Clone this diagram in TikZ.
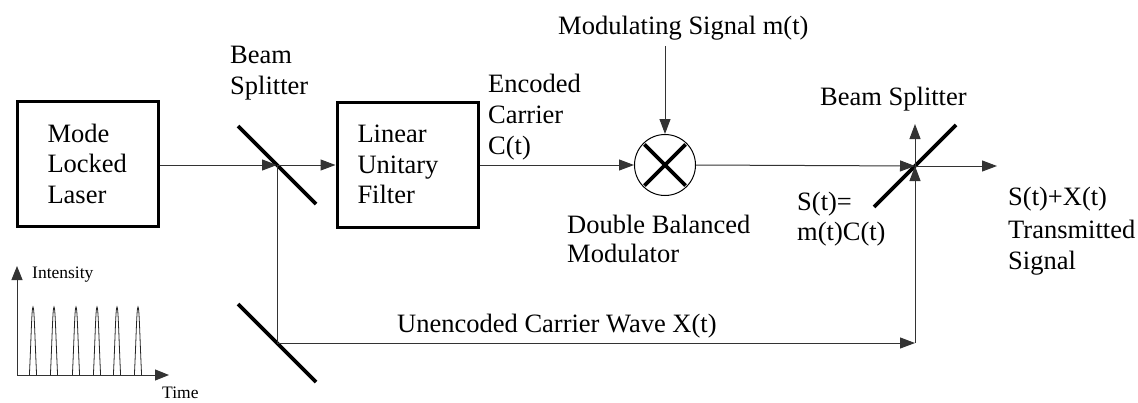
\documentclass[tikz,border=0pt]{standalone}
\usepackage{fontspec}
\setmainfont{Liberation Serif}
\usetikzlibrary{arrows.meta}
\begin{document}
\begin{tikzpicture}[x=1pt,y=-1pt,
  thinline/.style={line width=1pt, draw=black!80},
  thickline/.style={line width=3.6pt, draw=black},
  arr/.style={-{Triangle[length=15pt,width=11pt]}},
  blockbox/.style={draw, line width=3pt, minimum width=141pt, minimum height=125pt, inner sep=0pt, align=left, font=\fontsize{26.5}{30.5}\selectfont},
  lbl/.style={font=\fontsize{26.5}{31}\selectfont, align=left, inner sep=0pt},
  smalllbl/.style={font=\fontsize{17.5}{20}\selectfont, inner sep=0pt}]
\useasboundingbox (0,0) rectangle (1138,402);

% blocks
\node[blockbox, text width=80pt] (laser) at (87.5,163.5) {Mode\\Locked\\Laser};
\node[blockbox, text width=100pt] (filter) at (407.5,164.5) {Linear\\Unitary\\Filter};
\node[circle, draw, line width=1pt, minimum size=61pt, inner sep=0pt] (mod) at (665,165) {};
\draw[thickline, shorten <=2pt, shorten >=2pt] (mod.north west) -- (mod.south east);
\draw[thickline, shorten <=2pt, shorten >=2pt] (mod.north east) -- (mod.south west);

% beam splitters
\coordinate (bs1) at (277,165);
\coordinate (bs2) at (277,343);
\coordinate (bs3) at (915,166);
\coordinate (corner) at (915,343);
\coordinate (out) at (997,166);
\coordinate (up) at (915,124);
\draw[thickline] (238,126) -- (316,204);
\draw[thickline] (238,304) -- (316,382);
\draw[thickline] (874,207) -- (956,125);

% labels
\node[lbl, anchor=north west] (bslbl1) at (230,45.5) {Beam\\Splitter};
\node[lbl, anchor=north west] (enclbl) at (488,74) {Encoded\\Carrier\\C(t)};
\node[lbl, anchor=base west] (msig) at (558,34) {Modulating Signal m(t)};
\node[lbl, anchor=north west] (dbm) at (567,215) {Double Balanced\\[-2pt]Modulator};
\node[lbl, anchor=base west] (bslbl2) at (820,105) {Beam Splitter};
\node[lbl, anchor=north west] (stlbl) at (797,191.5) {S(t)=\\[-1pt]m(t)C(t)};
\node[lbl, anchor=base west] (unenc) at (397,332) {Unencoded Carrier Wave X(t)};
\node[lbl, anchor=north west] (outlbl) at (1008,186.5) {S(t)+X(t)\\[2pt]Transmitted\\Signal};

% connectors
\draw[thinline, arr] (laser.east |- bs1) -- (bs1);
\draw[thinline, arr] (bs1) -- (filter.west |- bs1);
\draw[thinline, arr] (filter.east |- mod.west) -- (mod.west);
\draw[thinline, arr] (mod.north |- msig.south) ++(0,6) -- (mod.north);
\draw[thinline] (bs1) -- (bs2);
\draw[thinline, arr] (bs2) -- (corner);
\draw[thinline, arr] (corner) -- (bs3);
\draw[thinline, arr] (mod.east) -- (bs3);
\draw[thinline, arr] (bs3) -- (out);
\draw[thinline, arr] (bs3) -- (up);

% intensity plot
\coordinate (origin) at (17,375);
\coordinate (yaxis) at (17,266);
\coordinate (xaxis) at (169,375);
\draw[thinline, -{Triangle[length=14pt,width=11pt]}] (origin) -- (yaxis);
\draw[thinline, -{Triangle[length=14pt,width=11pt]}] (origin) -- (xaxis);
\node[smalllbl, anchor=base west] (intlbl) at (32,278) {Intensity};
\node[smalllbl, anchor=base west] (timelbl) at (162,398) {Time};
\foreach \px in {33,54,76,97,117,138}{
  \draw[line width=0.8pt, black!85] (\px-3.6,375) .. controls (\px-1.8,338) and (\px-1.3,307) .. (\px,307)
     .. controls (\px+1.3,307) and (\px+1.8,338) .. (\px+3.6,375);
}
\end{tikzpicture}
\end{document}
